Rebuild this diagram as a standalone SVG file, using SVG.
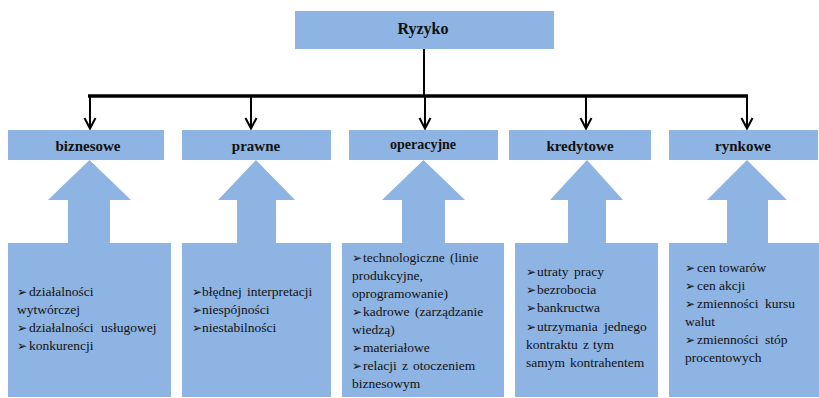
<svg xmlns="http://www.w3.org/2000/svg" width="819" height="398" viewBox="0 0 819 398">
  <style>
    .box { fill: #8EB4E3; }
    .title { font-family: "Liberation Serif", Tinos, "Times New Roman", serif; font-weight: bold; fill: #111; text-anchor: middle; }
    .item { font-family: "Liberation Serif", Tinos, "Times New Roman", serif; font-size: 13.5px; fill: #111; }
    .b { font-family: "DejaVu Sans", sans-serif; font-size: 12px; }
    .line { stroke: #000; fill: none; stroke-width: 2; }
    .bar { stroke: #000; fill: none; stroke-width: 3.5; }
  </style>

  <!-- root -->
  <g id="ryzyko">
    <rect class="box" x="295" y="11" width="259" height="38"/>
    <text class="title" x="423" y="34" font-size="16">Ryzyko</text>
  </g>

  <!-- connectors: trunk, bus bar and five drops with open heads -->
  <g id="connectors">
    <path class="line" d="M424,49 V96"/>
    <path class="bar" d="M88,96 H748"/>
    <path class="line" d="M90,96 V128 M84.5,118 L90,128.5 L95.5,118"/>
    <path class="line" d="M251,96 V128 M245.5,118 L251,128.5 L256.5,118"/>
    <path class="line" d="M425,96 V128 M419.5,118 L425,128.5 L430.5,118"/>
    <path class="line" d="M586,96 V128 M580.5,118 L586,128.5 L591.5,118"/>
    <path class="line" d="M747,96 V128 M741.5,118 L747,128.5 L752.5,118"/>
  </g>

  <!-- biznesowe -->
  <g id="biznesowe">
    <rect class="box" x="8" y="130" width="156" height="30"/>
    <text class="title" x="88" y="151" font-size="15">biznesowe</text>
    <polygon class="box" points="89.5,160 131,200 110,200 110,243 68,243 68,200 48,200"/>
    <rect class="box" x="8" y="243" width="163" height="154"/>
    <text class="item" y="296"><tspan class="b" x="17">➢</tspan><tspan x="29">działalności</tspan></text>
    <text class="item" x="17" y="314">wytwórczej</text>
    <text class="item" y="332"><tspan class="b" x="17">➢</tspan><tspan x="29">działalności</tspan><tspan x="101">usługowej</tspan></text>
    <text class="item" y="350"><tspan class="b" x="17">➢</tspan><tspan x="29">konkurencji</tspan></text>
  </g>

  <!-- prawne -->
  <g id="prawne">
    <rect class="box" x="182" y="130" width="149" height="30"/>
    <text class="title" x="256" y="151" font-size="15">prawne</text>
    <polygon class="box" points="256,160 295,200 276,200 276,243 237,243 237,200 218,200"/>
    <rect class="box" x="182" y="243" width="149" height="154"/>
    <text class="item" y="296"><tspan class="b" x="192">➢</tspan><tspan x="202">błędnej</tspan><tspan x="247">interpretacji</tspan></text>
    <text class="item" y="314"><tspan class="b" x="192">➢</tspan><tspan x="202">niespójności</tspan></text>
    <text class="item" y="332"><tspan class="b" x="192">➢</tspan><tspan x="202">niestabilności</tspan></text>
  </g>

  <!-- operacyjne -->
  <g id="operacyjne">
    <rect class="box" x="349" y="130" width="149" height="30"/>
    <text class="title" x="423" y="149" font-size="14">operacyjne</text>
    <polygon class="box" points="423.5,160 465,200 445,200 445,243 402,243 402,200 382,200"/>
    <rect class="box" x="342" y="243" width="162" height="154"/>
    <text class="item" y="261.5"><tspan class="b" x="352">➢</tspan><tspan x="363">technologiczne</tspan><tspan x="450">(linie</tspan></text>
    <text class="item" x="352" y="279.5">produkcyjne,</text>
    <text class="item" x="352" y="297.5">oprogramowanie)</text>
    <text class="item" y="315.5"><tspan class="b" x="352">➢</tspan><tspan x="363">kadrowe</tspan><tspan x="415">(zarządzanie</tspan></text>
    <text class="item" x="352" y="333.5">wiedzą)</text>
    <text class="item" y="351.5"><tspan class="b" x="352">➢</tspan><tspan x="363">materiałowe</tspan></text>
    <text class="item" y="370"><tspan class="b" x="352">➢</tspan><tspan x="363">relacji</tspan><tspan x="402">z</tspan><tspan x="413">otoczeniem</tspan></text>
    <text class="item" x="352" y="388">biznesowym</text>
  </g>

  <!-- kredytowe -->
  <g id="kredytowe">
    <rect class="box" x="509" y="130" width="142" height="30"/>
    <text class="title" x="580" y="151" font-size="15">kredytowe</text>
    <polygon class="box" points="587,160 623,200 606,200 606,243 568,243 568,200 550,200"/>
    <rect class="box" x="515" y="243" width="143" height="154"/>
    <text class="item" y="276"><tspan class="b" x="526">➢</tspan><tspan x="537">utraty</tspan><tspan x="574">pracy</tspan></text>
    <text class="item" y="294"><tspan class="b" x="526">➢</tspan><tspan x="537">bezrobocia</tspan></text>
    <text class="item" y="312"><tspan class="b" x="526">➢</tspan><tspan x="537">bankructwa</tspan></text>
    <text class="item" y="331"><tspan class="b" x="526">➢</tspan><tspan x="537">utrzymania</tspan><tspan x="604">jednego</tspan></text>
    <text class="item" y="349"><tspan x="526">kontraktu</tspan><tspan x="583">z</tspan><tspan x="593">tym</tspan></text>
    <text class="item" y="367"><tspan x="526">samym</tspan><tspan x="570">kontrahentem</tspan></text>
  </g>

  <!-- rynkowe -->
  <g id="rynkowe">
    <rect class="box" x="669" y="130" width="149" height="30"/>
    <text class="title" x="743" y="151" font-size="15">rynkowe</text>
    <polygon class="box" points="747,160 787,200 768,200 768,243 727,243 727,200 707,200"/>
    <rect class="box" x="669" y="243" width="150" height="154"/>
    <text class="item" y="272"><tspan class="b" x="685">➢</tspan><tspan x="697">cen towarów</tspan></text>
    <text class="item" y="290"><tspan class="b" x="685">➢</tspan><tspan x="697">cen akcji</tspan></text>
    <text class="item" y="308"><tspan class="b" x="685">➢</tspan><tspan x="697">zmienności</tspan><tspan x="765">kursu</tspan></text>
    <text class="item" x="685" y="326">walut</text>
    <text class="item" y="344"><tspan class="b" x="685">➢</tspan><tspan x="697">zmienności</tspan><tspan x="765">stóp</tspan></text>
    <text class="item" x="685" y="362">procentowych</text>
  </g>
</svg>
